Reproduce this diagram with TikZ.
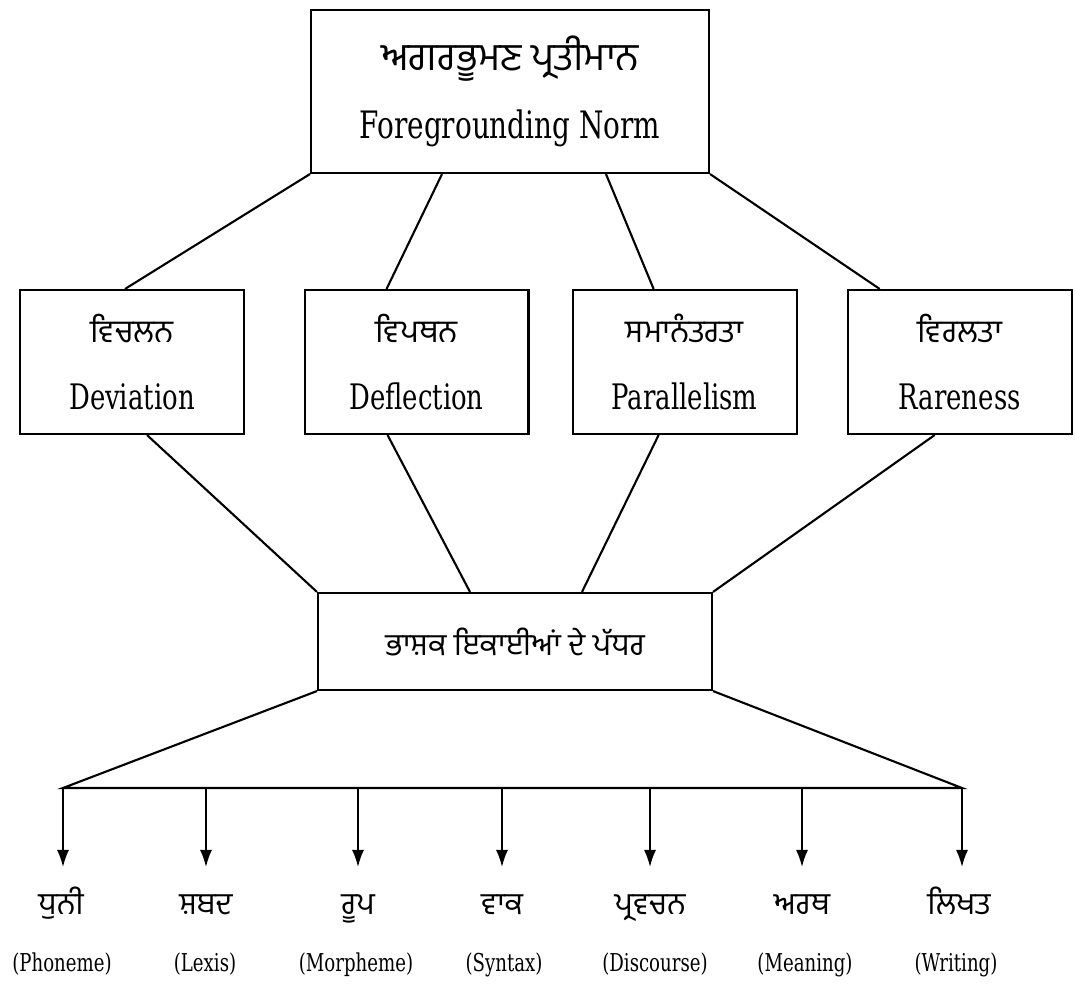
\documentclass[tikz,border=0pt]{standalone}
\usepackage{fontspec}
\setmainfont[FakeStretch=0.82]{DejaVu Serif Condensed}
\newfontfamily\pa[Script=Gurmukhi]{Hind Jalandhar}
\usetikzlibrary{positioning,arrows.meta}

\begin{document}
\begin{tikzpicture}[
		x=0.02cm, y=-0.02cm,
		line width=1.2pt,
		main/.style = {draw, rectangle, align=center, inner sep=0pt},
		level/.style = {main, minimum width=4.48cm, minimum height=2.88cm, font=\fontsize{20}{38}\selectfont},
		unit/.style = {anchor=base, inner sep=0pt, text height=0.5cm, font=\pa\fontsize{17.5}{20}\selectfont},
		gloss/.style = {anchor=base, inner sep=0pt, font=\fontsize{14}{16}\selectfont},
		arr/.style = {-{Latex[length=3.4mm,width=2.4mm]}, line width=0.9pt, shorten >=0.42cm}
	]
	\useasboundingbox (0,0) rectangle (1075,989);
	\node[main, minimum width=7.96cm, minimum height=3.26cm, font=\fontsize{21.5}{39}\selectfont] (top) at (510,91.5) {{\pa\fontsize{22}{39}\selectfont ਅਗਰਭੂਮਣ ਪ੍ਰਤੀਮਾਨ}\\Foregrounding Norm};
	\node[level] (dev) at (132,362) {{\pa\fontsize{18}{38}\selectfont ਵਿਚਲਨ}\\Deviation};
	\node[level] (defl) [right=1.17cm of dev] {{\pa\fontsize{18}{38}\selectfont ਵਿਪਥਨ}\\Deflection};
	\node[level] (par) [right=0.84cm of defl] {{\pa\fontsize{18}{38}\selectfont ਸਮਾਨੰਤਰਤਾ}\\Parallelism};
	\node[level] (rare) [right=0.98cm of par] {{\pa\fontsize{18}{38}\selectfont ਵਿਰਲਤਾ}\\Rareness};
	\node[main, minimum width=7.88cm, minimum height=1.94cm, font=\pa\fontsize{17.5}{20}\selectfont] (lev) at (515,641.5) {ਭਾਸ਼ਕ ਇਕਾਈਆਂ ਦੇ ਪੱਧਰ};
	\draw (top.south west) -- ([xshift=-0.14cm]dev.north);
	\draw ([xshift=-1.36cm]top.south) -- ([xshift=-0.6cm]defl.north);
	\draw ([xshift=1.92cm]top.south) -- ([xshift=-0.62cm]par.north);
	\draw (top.south east) -- ([xshift=-1.6cm]rare.north);
	\draw ([xshift=0.3cm]dev.south) -- (lev.north west);
	\draw ([xshift=-0.58cm]defl.south) -- ([xshift=-0.9cm]lev.north);
	\draw ([xshift=-0.52cm]par.south) -- ([xshift=1.34cm]lev.north);
	\draw ([xshift=-0.5cm]rare.south) -- (lev.north east);
	\coordinate (bl) at (63,788);
	\coordinate (br) at (962,788);
	\draw (lev.south west) -- (bl) -- (br) -- (lev.south east);
	\node[unit] (dhuni) at (61,914) {ਧੁਨੀ};
	\node[unit] (shabad) at (206,914) {ਸ਼ਬਦ};
	\node[unit] (roop) at (358,914) {ਰੂਪ};
	\node[unit] (vak) at (502,914) {ਵਾਕ};
	\node[unit] (pravachan) at (650,914) {ਪ੍ਰਵਚਨ};
	\node[unit] (arth) at (802,914) {ਅਰਥ};
	\node[unit] (likhat) at (959,914) {ਲਿਖਤ};
	\node[gloss] (phoneme) at (62,971) {(Phoneme)};
	\node[gloss] (lexis) at (205,971) {(Lexis)};
	\node[gloss] (morpheme) at (356,971) {(Morpheme)};
	\node[gloss] (syntax) at (504,971) {(Syntax)};
	\node[gloss] (discourse) at (655,971) {(Discourse)};
	\node[gloss] (meaning) at (805,971) {(Meaning)};
	\node[gloss] (writing) at (956,971) {(Writing)};
	\draw[arr] (bl) -- (bl |- dhuni.north);
	\draw[arr] (bl -| shabad) -- (shabad.north);
	\draw[arr] (bl -| roop) -- (roop.north);
	\draw[arr] (bl -| vak) -- (vak.north);
	\draw[arr] (bl -| pravachan) -- (pravachan.north);
	\draw[arr] (bl -| arth) -- (arth.north);
	\draw[arr] (br) -- (br |- likhat.north);
\end{tikzpicture}
\end{document}
